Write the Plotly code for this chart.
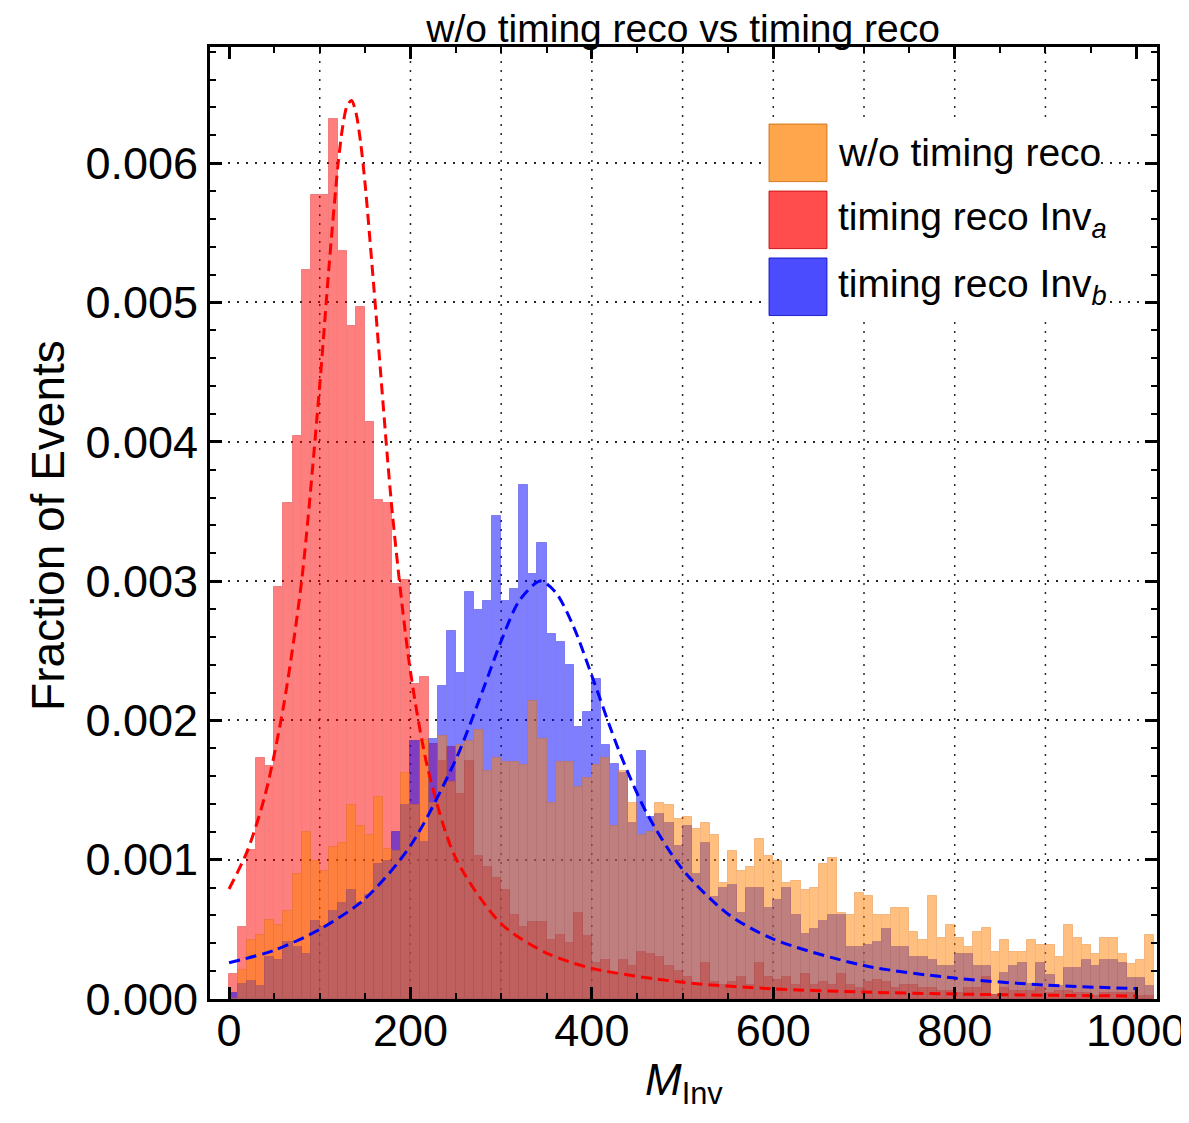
import plotly.graph_objects as go

# ---------------- data ----------------
bin_width = 10
bins = list(range(0, 1020, 10))  # left edges of bins, 0 ... 1010

orange_vals = [0.0, 0.00021, 0.00042, 0.00046, 0.00057, 0.00053, 0.00063, 0.0009, 0.0012, 0.00099,
               0.00092, 0.00109, 0.00112, 0.00139, 0.00124, 0.00118, 0.00145, 0.00108, 0.00106, 0.00162,
               0.00139, 0.00186, 0.00141, 0.00189, 0.00156, 0.00182, 0.00185, 0.00193, 0.00164, 0.00173,
               0.0017, 0.0017, 0.00168, 0.00214, 0.00187, 0.00141, 0.0017, 0.0017, 0.00152, 0.00159,
               0.00168, 0.00173, 0.00124, 0.00164, 0.00141, 0.00118, 0.0012, 0.00141, 0.00139, 0.00129,
               0.00131, 0.00122, 0.00126, 0.00118, 0.00083, 0.00106, 0.00092, 0.00095, 0.00115, 0.00103,
               0.00099, 0.00083, 0.00085, 0.00078, 0.0008, 0.00097, 0.00101, 0.00062, 0.0006, 0.00076,
               0.00074, 0.0006, 0.0006, 0.00065, 0.00065, 0.00048, 0.00042, 0.00074, 0.00044, 0.00053,
               0.00044, 0.00037, 0.00048, 0.00051, 0.00034, 0.00042, 0.00034, 0.00034, 0.00042, 0.00039,
               0.00039, 0.0003, 0.00053, 0.00044, 0.00039, 0.00032, 0.00044, 0.00044, 0.00032, 0.00025,
               0.00028, 0.00046]

red_vals = [0.00018, 0.00052, 0.00107, 0.00173, 0.00167, 0.00296, 0.00356, 0.00404, 0.00523, 0.00577,
            0.00577, 0.00632, 0.00537, 0.00483, 0.00497, 0.00414, 0.00358, 0.00356, 0.00298, 0.00301,
            0.00226, 0.00231, 0.00183, 0.00171, 0.00181, 0.00147, 0.00171, 0.00103, 0.00095, 0.00087,
            0.00078, 0.0006, 0.00052, 0.00055, 0.00055, 0.00042, 0.00046, 0.0004, 0.00062, 0.00045,
            0.00026, 0.00028, 0.00017, 0.00028, 0.00024, 0.00034, 0.00032, 0.0003, 0.00024, 0.0002,
            0.00016, 0.0001, 0.00026, 0.00012, 0.0001, 0.00012, 0.00016, 0.0001, 0.00026, 0.00016,
            0.00014, 0.00016, 0.0001, 0.00018, 0.0001, 0.00012, 0.0001, 0.00018, 0.0001, 0.00008,
            0.00012, 0.00014, 0.00012, 0.00008, 0.0001, 0.0001, 0.00008, 0.00008, 0.00006, 0.00006,
            0.00004, 0.00008, 0.00008, 0.00016, 0.00003, 0.00008, 0.00006, 0.00006, 0.00006, 0.00008,
            0.00004, 0.00006, 0.00006, 0.00004, 0.00004, 0.00002, 0.00004, 0.00004, 0.00004, 0.00004,
            0.00002, 0.00002]

blue_vals = [0.00004, 0.00011, 0.00013, 0.00009, 0.0003, 0.00028, 0.00041, 0.00037, 0.00032, 0.00056,
             0.00052, 0.00063, 0.00069, 0.00078, 0.00069, 0.00075, 0.00097, 0.00099, 0.0012, 0.00139,
             0.00185, 0.00113, 0.00187, 0.00225, 0.00264, 0.00234, 0.00292, 0.00279, 0.00286, 0.00347,
             0.00286, 0.00294, 0.00369, 0.00305, 0.00327, 0.00262, 0.00256, 0.0024, 0.00195, 0.00206,
             0.0023, 0.00182, 0.00169, 0.00162, 0.00126, 0.00178, 0.00131, 0.00133, 0.00126, 0.0011,
             0.00124, 0.0009, 0.00112, 0.00073, 0.0008, 0.00082, 0.00062, 0.0008, 0.0008, 0.00065,
             0.00071, 0.0008, 0.0006, 0.00047, 0.0005, 0.00056, 0.0006, 0.0006, 0.00037, 0.00037,
             0.00039, 0.00041, 0.0005, 0.00037, 0.00037, 0.0003, 0.0003, 0.00028, 0.00024, 0.00024,
             0.00032, 0.00032, 0.00024, 0.00024, 0.00003, 0.00019, 0.00024, 0.00026, 0.00011, 0.00026,
             0.00017, 0.00009, 0.00022, 0.00022, 0.00028, 0.00024, 0.00028, 0.00028, 0.00026, 0.00015,
             0.00015, 0.00009]

red_fit_x = [0, 20, 40, 60, 80, 100, 110, 120, 125, 130, 135, 140, 145, 150, 160, 180, 200, 220, 250,
             300, 350, 400, 500, 600, 700, 800, 900, 1000]
red_fit_y = [0.00079, 0.00106, 0.00147, 0.00210, 0.00300, 0.00441, 0.00524, 0.00598, 0.00625, 0.00641,
             0.00645, 0.00636, 0.00615, 0.00585, 0.00508, 0.00349, 0.00235, 0.00163, 0.00101,
             0.00054, 0.00033, 0.00022, 0.00012, 0.000073, 0.00005, 0.000036, 0.000027, 0.000022]

blue_fit_x = [0, 50, 100, 150, 200, 250, 280, 300, 320, 343, 360, 380, 400, 430, 460, 500, 550, 600,
              700, 800, 900, 1000]
blue_fit_y = [0.00026, 0.00035, 0.00050, 0.00072, 0.00110, 0.00172, 0.00222, 0.00257, 0.00286, 0.00300,
              0.00292, 0.00267, 0.00232, 0.00178, 0.00134, 0.00093, 0.00061, 0.00043, 0.00024,
              0.00015, 0.00010, 0.000075]

x_major_ticks = [0, 200, 400, 600, 800, 1000]
x_grid_lines = [100, 200, 300, 400, 500, 600, 700, 800, 900]
y_major_ticks = [0.0, 0.001, 0.002, 0.003, 0.004, 0.005, 0.006]
y_tick_labels = ["0.000", "0.001", "0.002", "0.003", "0.004", "0.005", "0.006"]

legend_labels = ["w/o timing reco", "timing reco Inv<sub><i>a</i></sub>", "timing reco Inv<sub><i>b</i></sub>"]
title_text = "w/o timing reco vs timing reco"
x_title = "<i>M</i><sub>Inv</sub>"
y_title = "Fraction of Events"

# ---------------- figure ----------------
FONT = "Liberation Sans, Arial, sans-serif"
fig = go.Figure()

def add_hist(vals, color, edge):
    fig.add_trace(go.Bar(
        x=bins, y=vals, width=bin_width, offset=0,
        marker=dict(color=color, line=dict(color=edge, width=1)),
        opacity=0.5, showlegend=False, hoverinfo="skip"))

add_hist(red_vals, "rgb(255,0,0)", "rgb(225,0,0)")
add_hist(blue_vals, "rgb(0,0,255)", "rgb(0,0,225)")
add_hist(orange_vals, "rgb(255,128,0)", "rgb(235,110,0)")

fig.add_trace(go.Scatter(x=red_fit_x, y=red_fit_y, mode="lines",
                         line=dict(color="#FF0000", width=3, dash="11px,6px", shape="spline", smoothing=0.8),
                         showlegend=False, hoverinfo="skip"))
fig.add_trace(go.Scatter(x=blue_fit_x, y=blue_fit_y, mode="lines",
                         line=dict(color="#0000FF", width=3, dash="11px,6px", shape="spline", smoothing=0.8),
                         showlegend=False, hoverinfo="skip"))

shapes = []
for gx in x_grid_lines:
    shapes.append(dict(type="line", xref="x", yref="paper", x0=gx, x1=gx, y0=0, y1=1,
                       line=dict(color="rgba(0,0,0,0.85)", width=1.5, dash="2px,7px"), layer="below"))

# custom legend (white box behind it hides the grid)
shapes.append(dict(type="rect", xref="paper", yref="paper", x0=0.5886, x1=0.933, y0=0.717, y1=0.922,
                   fillcolor="white", line=dict(width=0), layer="above"))
swatch_fill = ["rgba(255,128,0,0.7)", "rgba(255,0,0,0.7)", "rgba(0,0,255,0.7)"]
swatch_edge = ["rgba(200,100,0,0.8)", "rgba(190,0,0,0.8)", "rgba(0,0,190,0.8)"]
sw_x0, sw_x1 = 0.5903, 0.6515
sw_tops = [0.9191, 0.8487, 0.7784]
sw_h = 0.0605
annotations = []
for k in range(3):
    shapes.append(dict(type="rect", xref="paper", yref="paper", x0=sw_x0, x1=sw_x1,
                       y0=sw_tops[k] - sw_h, y1=sw_tops[k],
                       fillcolor=swatch_fill[k], line=dict(color=swatch_edge[k], width=1), layer="above"))
    annotations.append(dict(xref="paper", yref="paper", x=0.661, y=sw_tops[k] - sw_h / 2,
                            xanchor="left", yanchor="middle", text=legend_labels[k], showarrow=False,
                            font=dict(family=FONT, size=39, color="black")))

# axis titles as annotations (precise placement)
annotations.append(dict(xref="paper", yref="paper", x=0.5, y=-0.088, xanchor="center", yanchor="middle",
                        text=x_title, showarrow=False, font=dict(family=FONT, size=44, color="black")))
annotations.append(dict(xref="paper", yref="paper", x=-0.171, y=0.497, xanchor="center", yanchor="middle",
                        text=y_title, textangle=-90, showarrow=False,
                        font=dict(family=FONT, size=46, color="black")))

# the page body has an 8px margin: figure is sized/offset to compensate
fig.update_layout(
    width=1181, height=1115,
    margin=dict(l=202, r=32, t=39, b=124, autoexpand=False),
    paper_bgcolor="white", plot_bgcolor="white",
    barmode="overlay", bargap=0,
    title=dict(text=title_text, x=0.5716, xanchor="center",
               y=0.982, yanchor="middle", font=dict(family=FONT, size=39, color="black")),
    shapes=shapes, annotations=annotations,
    font=dict(family=FONT, color="black"),
)

fig.update_xaxes(
    range=[-21, 1023], tickvals=x_major_ticks, ticks="inside", ticklen=12, tickwidth=3,
    tickcolor="black", showgrid=False, zeroline=False, automargin=False,
    showline=True, linewidth=3, linecolor="black", mirror="allticks",
    minor=dict(dtick=50, tick0=0, ticks="inside", ticklen=6, tickwidth=2, tickcolor="black", showgrid=False),
    tickfont=dict(family=FONT, size=45, color="black"), ticklabelstandoff=-10,
)
fig.update_yaxes(
    range=[0, 0.006834], tickvals=y_major_ticks, ticktext=y_tick_labels,
    ticks="inside", ticklen=12, tickwidth=3, tickcolor="black",
    showgrid=True, gridcolor="rgba(0,0,0,0.85)", gridwidth=1.5, griddash="2px,7px", zeroline=False,
    automargin=False,
    showline=True, linewidth=3, linecolor="black", mirror="allticks",
    minor=dict(dtick=0.0002, tick0=0, ticks="inside", ticklen=6, tickwidth=2, tickcolor="black", showgrid=False),
    tickfont=dict(family=FONT, size=45, color="black"),
)

fig.write_html("out.html")
